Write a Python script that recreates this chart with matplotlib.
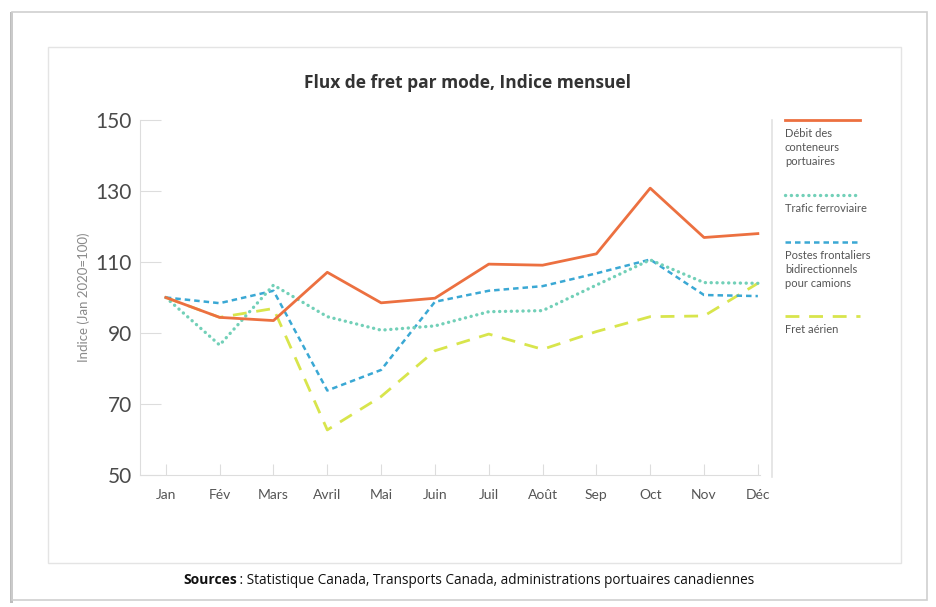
import matplotlib.pyplot as plt
from matplotlib.lines import Line2D
from matplotlib.patches import Rectangle

mois = ['Jan', 'Fév', 'Mars', 'Avril', 'Mai', 'Juin', 'Juil', 'Août', 'Sep', 'Oct', 'Nov', 'Déc']
conteneurs = [100, 94.4, 93.5, 107.1, 98.5, 99.8, 109.4, 109.1, 112.3, 130.8, 116.9, 118.0]
ferroviaire = [100, 86.6, 103.5, 94.6, 90.8, 92.0, 96.0, 96.3, 103.5, 110.6, 104.2, 104.0]
camions = [100, 98.4, 101.9, 73.8, 79.6, 98.8, 101.9, 103.2, 106.8, 110.7, 100.7, 100.4]
aerien = [100, 94.4, 96.9, 62.7, 72.1, 85.0, 89.7, 85.4, 90.4, 94.6, 94.8, 104.0]
yticks = [50, 70, 90, 110, 130, 150]

labels = ['Débit des\nconteneurs\nportuaires', 'Trafic ferroviaire',
          'Postes frontaliers\nbidirectionnels\npour camions', 'Fret aérien']
colors = ['#ec7040', '#72d0b8', '#3aa8d4', '#d8e54c']
styles = [dict(linestyle='-', linewidth=2.0),
          dict(linestyle=(0, (0.05, 1.7)), linewidth=2.4, dash_capstyle='round'),
          dict(linestyle=(0, (2.2, 1.6)), linewidth=1.8),
          dict(linestyle=(0, (5, 3.5)), linewidth=2.0)]

plt.rcParams['font.family'] = ['Lato', 'DejaVu Sans']

fig = plt.figure(figsize=(9.37, 6.07), dpi=100)
W, H = 937, 607

def fx(px):
    return px / W

def fy(py):
    return 1 - py / H

# cadres
fig.add_artist(Rectangle((fx(10), fy(603)), fx(3), 591 / H, transform=fig.transFigure,
                         facecolor='#bdbdbd', edgecolor='none'))
fig.add_artist(Rectangle((fx(12), fy(600)), fx(915), 588 / H, transform=fig.transFigure,
                         facecolor='none', edgecolor='#cfcfcf', linewidth=1.2))
fig.add_artist(Rectangle((fx(48), fy(563)), fx(853), 516 / H, transform=fig.transFigure,
                         facecolor='none', edgecolor='#e4e4e4', linewidth=1.0))

ax = fig.add_axes([fx(140), fy(475), fx(620), 355 / H])
x = list(range(len(mois)))
ax.plot(x, aerien, color=colors[3], **styles[3])
ax.plot(x, camions, color=colors[2], **styles[2])
ax.plot(x, ferroviaire, color=colors[1], **styles[1])
ax.plot(x, conteneurs, color=colors[0], **styles[0])

ax.set_xlim(-0.48, 11.04)
ax.set_ylim(50, 150)
ax.set_xticks(x)
ax.set_xticklabels(mois, fontsize=10, color='#555555')
ax.set_yticks(yticks)
ax.set_yticklabels([str(v) for v in yticks], fontsize=15, color='#4a4a4a')
ax.tick_params(axis='y', direction='in', length=15, color='#dddddd', pad=6)
ax.tick_params(axis='x', direction='in', length=8, color='#dddddd', pad=10)
for s in ['top', 'right']:
    ax.spines[s].set_visible(False)
for s in ['left', 'bottom']:
    ax.spines[s].set_color('#dddddd')
ax.set_ylabel('Indice (Jan 2020=100)', fontsize=9.5, color='#8a8a8a', labelpad=4)

fig.text(fx(468), fy(83), 'Flux de fret par mode, Indice mensuel', ha='center', va='center',
         fontsize=12.5, fontweight='bold', color='#333333', family=['Open Sans', 'DejaVu Sans'])

# separateur et legende
fig.add_artist(Line2D([fx(772), fx(772)], [fy(120), fy(477)], color='#e2e2e2', linewidth=1.2))
leg_y = [120, 195, 242, 316]
for lab, c, st, ly in zip(labels, colors, styles, leg_y):
    fig.add_artist(Line2D([fx(785), fx(860)], [fy(ly), fy(ly)], color=c, **st))
    fig.text(fx(785), fy(ly + 8), lab, ha='left', va='top', fontsize=8, color='#555555',
             linespacing=1.35)

fig.text(fx(183), fy(580), 'Sources', ha='left', va='center', fontsize=10, fontweight='bold',
         family=['Open Sans', 'DejaVu Sans'], color='#111111')
fig.text(fx(236), fy(580), ' : Statistique Canada, Transports Canada, administrations portuaires canadiennes',
         ha='left', va='center', fontsize=9.8, family=['Open Sans', 'DejaVu Sans'], color='#111111')

fig.savefig('out.png', dpi=100)
